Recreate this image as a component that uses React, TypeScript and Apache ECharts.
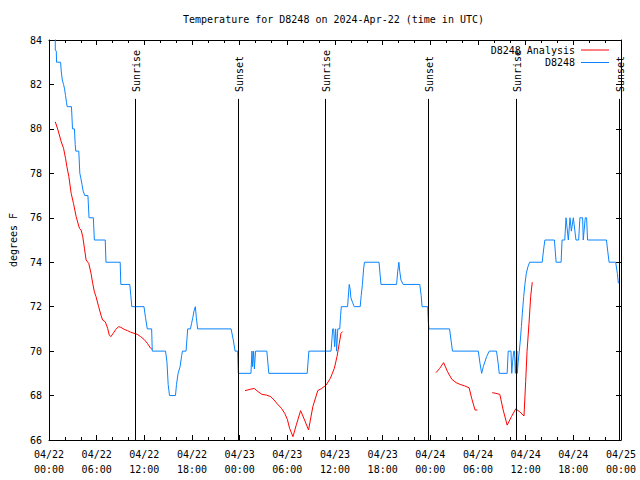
import React, { useEffect, useRef } from 'react';
import * as echarts from 'echarts';

const FONT = 'DejaVu Sans Mono';
const TITLE = 'Temperature for D8248 on 2024-Apr-22 (time in UTC)';
const Y_NAME = 'degrees F';
const ANALYSIS_NAME = 'D8248 Analysis';
const OBS_NAME = 'D8248';
const MONTH = '04';
const FIRST_DAY = 22;
const X_MIN = 0;
const X_MAX = 72;
const X_STEP = 6;
const Y_MIN = 66;
const Y_MAX = 84;
const Y_STEP = 2;
const RED = '#ff0000';
const BLUE = '#0a84ff';

// hours since 2024-04-22 00:00 UTC
const sunTimes = [10.85, 23.8, 34.75, 47.75, 58.79, 71.75];
const sunLabels = ['Sunrise', 'Sunset', 'Sunrise', 'Sunset', 'Sunrise', 'Sunset'];
const SUN_LINE_TOP = 81.35;
const SUN_LABEL_BASE = 81.66;

// observed station temperature [hour, degF]
const observed: [number, number][] = [
  [0.79, 84.3], [0.79, 83.55], [0.92, 83.5], [0.95, 83], [1.46, 83], [1.54, 82.6], [1.67, 82.2],
  [1.83, 82], [1.96, 81.8], [2.08, 81.5], [2.2, 81.2], [2.29, 81], [2.83, 81], [2.96, 80], [3.2, 80],
  [3.3, 79.3], [3.37, 79], [3.75, 79], [3.88, 78], [4.0, 77.8], [4.15, 77.5], [4.3, 77.2], [4.5, 77],
  [4.9, 77], [5.04, 76], [5.58, 76], [5.71, 75], [7.08, 75], [7.17, 74], [8.96, 74], [9.04, 73],
  [10.17, 73], [10.3, 72.5], [10.42, 72], [11.96, 72], [12.15, 71.5], [12.375, 71], [12.92, 71],
  [13.0, 70], [14.67, 70], [14.85, 69.5], [15.0, 68.5], [15.17, 68], [15.92, 68], [16.05, 68.5],
  [16.25, 69], [16.5, 69.3], [16.7, 69.8], [16.8, 70], [17.25, 70], [17.46, 71], [17.8, 71],
  [17.95, 71.25], [18.1, 71.5], [18.25, 71.8], [18.42, 72], [18.55, 71.5], [18.71, 71], [22.92, 71],
  [23.2, 70.5], [23.42, 70], [23.75, 70], [23.83, 69], [25.42, 69], [25.55, 70], [25.62, 69.3],
  [25.75, 70], [25.85, 69.2], [26.0, 70], [27.42, 70], [27.67, 69], [32.5, 69], [32.71, 70],
  [35.5, 70], [35.71, 71], [35.83, 71], [35.95, 70.2], [36.08, 71], [36.2, 70], [36.35, 71],
  [36.6, 71], [36.7, 71.6], [36.8, 72], [37.58, 72], [37.79, 73], [37.9, 72.8], [38.0, 72.4],
  [38.2, 72.2], [38.42, 72], [39.17, 72], [39.3, 72.5], [39.45, 73], [39.6, 73.7], [39.71, 74],
  [41.54, 74], [41.79, 73], [43.75, 73], [43.9, 73.6], [44.04, 74], [44.15, 73.6], [44.3, 73.2],
  [44.58, 73], [46.67, 73], [46.85, 72.5], [46.96, 72], [47.67, 72], [47.75, 71.3], [47.83, 71],
  [50.42, 71], [50.6, 70.5], [50.79, 70], [54.04, 70], [54.25, 69.45], [54.46, 69], [54.67, 69.3],
  [55.08, 69.75], [55.42, 70], [56.33, 70], [56.54, 69.45], [56.67, 69], [57.67, 69], [57.8, 70],
  [58.15, 70], [58.25, 69], [58.35, 69.5], [58.5, 70], [58.6, 70], [58.7, 69], [58.8, 69.6],
  [58.9, 70], [58.95, 69], [59.05, 69.5], [59.2, 70], [59.33, 70.5], [59.46, 71.1], [59.58, 71.7],
  [59.75, 72.45], [59.92, 73.05], [60.08, 73.5], [60.29, 73.8], [60.5, 74], [62.08, 74],
  [62.25, 74.55], [62.42, 75], [63.62, 75], [63.83, 74], [64.46, 74], [64.58, 75], [64.92, 75],
  [65.08, 76], [65.37, 75], [65.58, 76], [65.75, 75.4], [66.0, 76], [66.33, 75], [66.67, 75],
  [66.83, 76], [67.17, 76], [67.25, 75], [67.5, 76], [67.67, 76], [67.79, 75], [70.17, 75],
  [70.33, 74.5], [70.5, 74], [71.33, 74], [71.54, 73.5], [71.67, 73.05],
];

// analysis temperature segments [hour, degF]
const analysisDay1: [number, number][] = [
  [0.79, 80.32], [1.13, 79.95], [1.54, 79.42], [1.83, 79.13], [2.08, 78.68], [2.25, 78.3],
  [2.5, 77.85], [2.79, 77.1], [3.08, 76.65], [3.42, 76.05], [3.83, 75.53], [4.04, 75.45],
  [4.25, 75.15], [4.46, 74.63], [4.67, 74.1], [5.0, 73.95], [5.29, 73.5], [5.5, 73.05],
  [5.71, 72.67], [5.92, 72.45], [6.25, 72.0], [6.54, 71.62], [6.75, 71.4], [7.08, 71.32],
  [7.38, 71.03], [7.58, 70.73], [7.79, 70.65], [8.08, 70.8], [8.42, 70.98], [8.75, 71.1],
  [9.04, 71.07], [9.46, 70.98], [9.88, 70.92], [10.29, 70.85], [10.71, 70.8], [11.13, 70.75],
  [11.54, 70.65], [11.96, 70.53], [12.38, 70.35], [12.79, 70.13], [13.0, 70.08],
];
const analysisDay2: [number, number][] = [
  [24.67, 68.22], [25.29, 68.28], [25.83, 68.32], [26.33, 68.17], [26.83, 68.05], [27.38, 68.02],
  [27.92, 67.95], [28.33, 67.8], [28.75, 67.62], [29.25, 67.43], [29.67, 67.2], [30.0, 66.93],
  [30.29, 66.52], [30.71, 66.15], [31.13, 66.68], [31.67, 67.32], [32.17, 66.9], [32.67, 66.45],
  [33.21, 67.5], [33.83, 68.22], [34.33, 68.32], [34.88, 68.47], [35.42, 68.78], [35.92, 69.23],
  [36.25, 69.75], [36.54, 70.35], [36.75, 70.8], [36.96, 70.88],
];
const analysisDay3a: [number, number][] = [
  [48.71, 69.03], [49.17, 69.22], [49.67, 69.48], [50.17, 69.07], [50.71, 68.73], [51.25, 68.58],
  [51.75, 68.5], [52.29, 68.44], [52.88, 68.35], [53.21, 67.87], [53.63, 67.35], [53.92, 67.35],
];
const analysisDay3b: [number, number][] = [
  [55.79, 68.13], [56.25, 68.1], [56.75, 68.05], [57.17, 67.35], [57.67, 66.67], [58.21, 67.05],
  [58.75, 67.4], [59.25, 67.27], [59.79, 67.08], [60.0, 68.63], [60.17, 69.97], [60.42, 71.25],
  [60.63, 72.45], [60.83, 73.1],
];

const GRID = { left: 46, right: 19, top: 40, bottom: 40 };

function withGaps(segs: [number, number][][]): any[] {
  const out: any[] = [];
  segs.forEach((s, i) => {
    if (i > 0) out.push([s[0][0] - 0.01, '-']);
    s.forEach((p) => out.push(p));
  });
  return out;
}

function xLabel(v: number): string {
  const day = FIRST_DAY + Math.floor(v / 24);
  const hh = v % 24;
  return `${MONTH}/${day}\n${hh < 10 ? '0' + hh : hh}:00`;
}

const textBase = { fontFamily: FONT, fontSize: 10, color: '#000' };

export default function App() {
  const ref = useRef<HTMLDivElement>(null);
  useEffect(() => {
    if (!ref.current) return;
    const chart = echarts.init(ref.current, null, { renderer: 'svg' });
    const axisLine = { show: true, onZero: false, lineStyle: { color: '#000', width: 1 } };
    const tick = { show: true, inside: true, length: 5, lineStyle: { color: '#000', width: 1 } };
    const xCommon = {
      type: 'value', min: X_MIN, max: X_MAX, interval: X_STEP,
      axisLine, axisTick: tick,
      minorTick: { show: true, splitNumber: 3, length: 3, lineStyle: { color: '#000', width: 1 } },
      splitLine: { show: false },
    };
    const yCommon = {
      type: 'value', min: Y_MIN, max: Y_MAX, interval: Y_STEP,
      axisLine, axisTick: tick, splitLine: { show: false },
    };
    chart.setOption({
      animation: false,
      backgroundColor: '#fff',
      grid: GRID,
      legend: {
        data: [ANALYSIS_NAME, OBS_NAME],
        orient: 'vertical', right: 31, top: 45, align: 'right',
        icon: 'rect', itemWidth: 28, itemHeight: 1, itemGap: 2.5, padding: 0,
        textStyle: { ...textBase, padding: [0, 1, 0, 0] },
      },
      xAxis: [
        {
          ...xCommon, position: 'bottom',
          axisLabel: { ...textBase, lineHeight: 15, margin: 7, formatter: xLabel, showMinLabel: true, showMaxLabel: true },
        },
        { ...xCommon, position: 'top', axisLabel: { show: false } },
      ],
      yAxis: [
        {
          ...yCommon, position: 'left',
          axisLabel: { ...textBase, margin: 7 },
          name: Y_NAME, nameLocation: 'middle', nameGap: 31, nameRotate: 90,
          nameTextStyle: { ...textBase },
        },
        { ...yCommon, position: 'right', axisLabel: { show: false } },
      ],
      series: [
        {
          name: ANALYSIS_NAME, type: 'line', xAxisIndex: 0, yAxisIndex: 0,
          data: withGaps([analysisDay1, analysisDay2, analysisDay3a, analysisDay3b]),
          showSymbol: false, symbol: 'none', connectNulls: false,
          lineStyle: { color: RED, width: 1 }, itemStyle: { color: RED },
        },
        {
          name: OBS_NAME, type: 'line', xAxisIndex: 0, yAxisIndex: 0,
          data: observed, showSymbol: false, symbol: 'none',
          lineStyle: { color: BLUE, width: 1 }, itemStyle: { color: BLUE },
          markLine: {
            silent: true, symbol: ['none', 'none'], label: { show: false },
            lineStyle: { color: '#000', width: 1, type: 'solid' },
            data: sunTimes.map((t) => [{ coord: [t, Y_MIN] }, { coord: [t, SUN_LINE_TOP] }]),
          },
        },
      ],
    });
    const sunTexts = sunTimes.map((t, i) => {
      const p = chart.convertToPixel({ xAxisIndex: 0, yAxisIndex: 0 }, [t, SUN_LABEL_BASE]) as number[];
      return {
        type: 'text', x: p[0] + 1, y: p[1], rotation: Math.PI / 2, z: 100,
        style: { text: sunLabels[i], fontFamily: FONT, fontSize: 10, fill: '#000', align: 'left', verticalAlign: 'middle' },
      };
    });
    const centerX = GRID.left + (640 - GRID.left - GRID.right) / 2;
    chart.setOption({
      graphic: [
        {
          type: 'text', x: centerX, y: 19, z: 100,
          style: { text: TITLE, fontFamily: FONT, fontSize: 10, fill: '#000', align: 'center', verticalAlign: 'middle' },
        },
        ...sunTexts,
      ],
    });
    return () => chart.dispose();
  }, []);
  return <div ref={ref} style={{ position: 'fixed', left: 0, top: 0, width: 640, height: 480, background: '#fff' }} />;
}
